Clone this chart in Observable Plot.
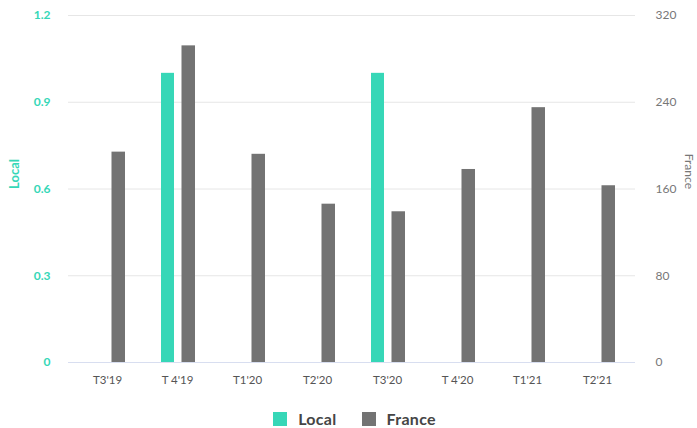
<!DOCTYPE html>
<html>
<head>
<meta charset="utf-8">
<script src="https://cdn.jsdelivr.net/npm/d3@7"></script>
<script src="https://cdn.jsdelivr.net/npm/@observablehq/plot@0.6"></script>
<style>
  body { margin: 0; background: #fff; font-family: Lato, "Open Sans", sans-serif; }
  #chart svg { display: block; }
  .legend { display: flex; justify-content: center; gap: 25px; margin-top: 26px; padding-left: 12px; font-size: 16px; line-height: 16px; font-weight: 700; color: #454545; }
  .legend span { display: inline-flex; align-items: center; letter-spacing: 0.3px; }
  .legend i { display: inline-block; width: 14px; height: 14px; margin-right: 11px; }
</style>
</head>
<body>
<div id="chart"></div>
<script>
const categories = ["T3'19", "T 4'19", "T1'20", "T2'20", "T3'20", "T 4'20", "T1'21", "T2'21"];
const localValues = [0, 1, 0, 0, 1, 0, 0, 0];
const franceValues = [194, 292, 192, 146, 139, 178, 235, 163];
const localTicks = [0, 0.3, 0.6, 0.9, 1.2];
const franceTicks = [0, 80, 160, 240, 320];
const localMax = 1.2, franceMax = 320;
const teal = "#36d7b7", gray = "#737373";

const data = categories.map((c, i) => ({cat: c, local: localValues[i], france: franceValues[i]}));

const chart = Plot.plot({
  width: 697,
  height: 385,
  marginLeft: 68,
  marginRight: 62,
  marginTop: 15,
  marginBottom: 23,
  style: {fontFamily: "Lato, 'Open Sans', sans-serif", fontSize: "11px"},
  x: {domain: categories, padding: 0, label: null},
  y: {domain: [0, localMax], label: null},
  marks: [
    Plot.gridY(localTicks.filter(d => d > 0), {stroke: "#e6e6e6", strokeOpacity: 1}),
    Plot.barY(data.filter(d => d.local > 0), {x: "cat", y: "local", fill: teal, insetLeft: 19, insetRight: 38}),
    Plot.barY(data, {x: "cat", y: d => d.france / franceMax * localMax, fill: gray, insetLeft: 39.5, insetRight: 17}),
    Plot.ruleY([0], {stroke: "#d8def0"}),
    Plot.axisX({tickSize: 0, tickPadding: 13, fill: "#555", fontSize: 11.5, label: null}),
    Plot.axisY(localTicks, {anchor: "left", tickSize: 0, tickPadding: 18, tickFormat: d => String(d), fill: teal, fontWeight: 700, fontSize: 12, label: null}),
    Plot.axisY(localTicks, {anchor: "right", tickSize: 0, tickPadding: 20, tickFormat: d => String(Math.round(d / localMax * franceMax)), fill: "#777", fontSize: 12, label: null}),
    Plot.text(["Local"], {frameAnchor: "left", dx: -54, rotate: -90, fill: teal, fontWeight: 700, fontSize: 13}),
    Plot.text(["France"], {frameAnchor: "right", dx: 53, rotate: 90, fill: "#777", fontSize: 12})
  ]
});

const root = document.getElementById("chart");
root.appendChild(chart);
const legend = document.createElement("div");
legend.className = "legend";
legend.innerHTML = `<span><i style="background:${teal}"></i>Local</span><span><i style="background:${gray}"></i>France</span>`;
root.appendChild(legend);
</script>
</body>
</html>
